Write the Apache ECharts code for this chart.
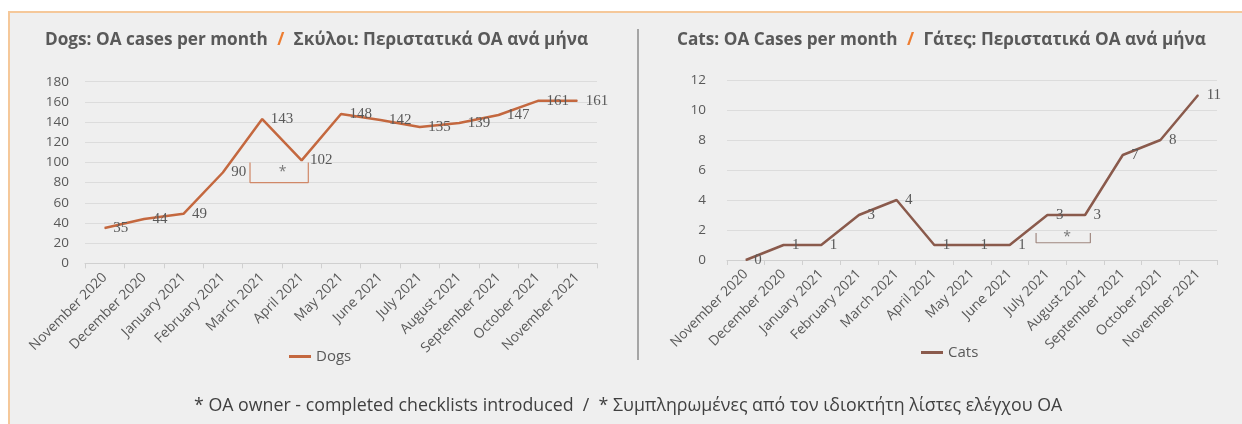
<!DOCTYPE html>
<html>
<head>
<meta charset="utf-8">
<script src="https://cdn.jsdelivr.net/npm/echarts@6/dist/echarts.min.js"></script>
<style>
html,body{margin:0;padding:0;background:#fff;}
#chart{width:1242px;height:424px;}
</style>
</head>
<body>
<div id="chart"></div>
<script>
const months = ['November 2020','December 2020','January 2021','February 2021','March 2021','April 2021','May 2021','June 2021','July 2021','August 2021','September 2021','October 2021','November 2021'];
const dogs = [35,44,49,90,143,102,148,142,135,139,147,161,161];
const cats = [0,1,1,3,4,1,1,1,3,3,7,8,11];
const dogsTicks = {min:0, max:180, interval:20};
const catsTicks = {min:0, max:12, interval:2};
// annotation brackets: [category position, value]
const dogsBracket = [[3.69,100],[3.69,80],[5.17,80],[5.17,100]];
const dogsStar = [[4.52,90]];
const catsBracket = [[7.7,1.8],[7.7,1.15],[9.14,1.15],[9.14,1.8]];
const catsStar = [[8.52,1.5]];

const FONT = 'Open Sans';
const GREY = '#595959';
const BG = '#efefef';
const DOG_COLOR = '#C4683F';
const CAT_COLOR = '#8A5A4C';

const chart = echarts.init(document.getElementById('chart'));

function catAxis(gi){
  return {
    type:'category', gridIndex:gi, data:months, boundaryGap:true,
    axisLine:{lineStyle:{color:'#d0d0d0'}},
    axisTick:{show:true, length:5, lineStyle:{color:'#d0d0d0'}},
    axisLabel:{interval:0, rotate:45, color:GREY, fontFamily:FONT, fontSize:13.8, margin:12},
    splitLine:{show:false}
  };
}
function hidX(gi){
  return {type:'value', gridIndex:gi, min:-0.5, max:12.5, show:false, splitLine:{show:false}};
}
function valAxis(gi, t, margin){
  return {
    type:'value', gridIndex:gi, min:t.min, max:t.max, interval:t.interval,
    axisLine:{show:false}, axisTick:{show:false},
    axisLabel:{color:GREY, fontFamily:FONT, fontSize:13.5, margin:margin},
    splitLine:{lineStyle:{color:'#dcdcdc', width:1}}
  };
}
const dataLabel = {show:true, position:'right', distance:8, color:GREY, fontFamily:'Liberation Serif', fontSize:15};
const starLabel = {show:true, position:'inside', formatter:'*', color:GREY, fontFamily:FONT, fontSize:14};
const titleRich = {
  a:{fontFamily:FONT, fontWeight:'bold', fontSize:17.2, color:GREY},
  o:{fontFamily:FONT, fontWeight:'bold', fontSize:17.2, color:'#ED7D31'}
};

chart.setOption({
  backgroundColor:BG,
  animation:false,
  textStyle:{fontFamily:FONT},
  title:[
    {left:40, top:26, text:'{a|Dogs: OA cases per month}  {o|/}  {a|Σκύλοι: Περιστατικά OA ανά μήνα}', textStyle:{rich:titleRich}},
    {left:672, top:26, text:'{a|Cats: OA Cases per month}  {o|/}  {a|Γάτες: Περιστατικά OA ανά μήνα}', textStyle:{rich:titleRich}},
    {left:189, top:392, text:'* OA owner - completed checklists introduced  /  * Συμπληρωμένες από τον ιδιοκτήτη λίστες ελέγχου OA',
     textStyle:{fontFamily:FONT, fontWeight:'normal', fontSize:17.8, color:'#404040'}}
  ],
  legend:[
    {data:['Dogs'], left:284, top:344, itemWidth:22, itemHeight:3, itemGap:2, icon:'rect',
     textStyle:{color:GREY, fontFamily:FONT, fontSize:15}},
    {data:['Cats'], left:916, top:340, itemWidth:22, itemHeight:3, itemGap:2, icon:'rect',
     textStyle:{color:GREY, fontFamily:FONT, fontSize:15}}
  ],
  grid:[
    {left:85, top:81.7, width:512, height:181.6},
    {left:727, top:80, width:490, height:180}
  ],
  xAxis:[catAxis(0), catAxis(1), hidX(0), hidX(1)],
  yAxis:[valAxis(0, dogsTicks, 16), valAxis(1, catsTicks, 21)],
  graphic:[
    {type:'rect', shape:{x:0,y:0,width:1242,height:11}, style:{fill:'#ffffff'}, silent:true},
    {type:'rect', shape:{x:0,y:0,width:8,height:424}, style:{fill:'#ffffff'}, silent:true},
    {type:'line', shape:{x1:8,y1:12,x2:1242,y2:12}, style:{stroke:'#F5C89A', lineWidth:2}, silent:true},
    {type:'line', shape:{x1:9,y1:11,x2:9,y2:424}, style:{stroke:'#F5C89A', lineWidth:2}, silent:true},
    {type:'line', shape:{x1:638,y1:29,x2:638,y2:360}, style:{stroke:'#8c8c8c', lineWidth:1.5}, silent:true}
  ],
  series:[
    {name:'Dogs', type:'line', xAxisIndex:0, yAxisIndex:0, data:dogs, symbol:'circle', symbolSize:1, showSymbol:true,
     lineStyle:{color:DOG_COLOR, width:2.5}, itemStyle:{color:DOG_COLOR}, label:dataLabel, labelLayout:{hideOverlap:false}, z:3},
    {name:'Cats', type:'line', xAxisIndex:1, yAxisIndex:1, data:cats, symbol:'circle', symbolSize:1, showSymbol:true,
     lineStyle:{color:CAT_COLOR, width:2.5}, itemStyle:{color:CAT_COLOR}, label:dataLabel, labelLayout:{hideOverlap:false}, z:3},
    {name:'dogsBracket', type:'line', xAxisIndex:2, yAxisIndex:0, data:dogsBracket, symbol:'none', silent:true,
     lineStyle:{color:'#D08868', width:1.2}},
    {name:'catsBracket', type:'line', xAxisIndex:3, yAxisIndex:1, data:catsBracket, symbol:'none', silent:true,
     lineStyle:{color:'#A08880', width:1.2}},
    {name:'dogsStar', type:'scatter', xAxisIndex:2, yAxisIndex:0, data:dogsStar, symbolSize:1, silent:true,
     itemStyle:{color:BG}, label:starLabel},
    {name:'catsStar', type:'scatter', xAxisIndex:3, yAxisIndex:1, data:catsStar, symbolSize:1, silent:true,
     itemStyle:{color:BG}, label:starLabel}
  ]
});
</script>
</body>
</html>
